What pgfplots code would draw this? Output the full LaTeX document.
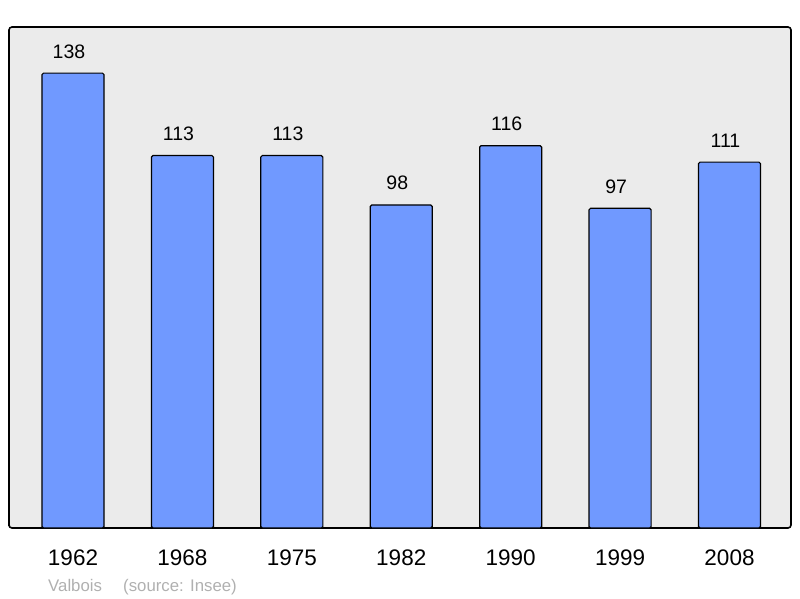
\documentclass[border=0pt]{standalone}
\usepackage{pgfplots}
\pgfplotsset{compat=1.18}
\usepackage{fontspec}
\setmainfont{Liberation Sans}
\definecolor{barblue}{HTML}{7099FF}
\definecolor{bggray}{HTML}{EBEBEB}
\definecolor{srcgray}{HTML}{B0B0B0}
\begin{document}
\begin{tikzpicture}
\begin{axis}[
  scale only axis,
  width=782pt, height=501pt,
  xmin=-0.585, xmax=6.562,
  ymin=0, ymax=152,
  /pgf/number format/assume math mode=true,
  axis background/.style={fill=bggray},
  axis line style={line width=1.6pt, rounded corners=3pt},
  xtick={0,1,2,3,4,5,6},
  xticklabels={1962,1968,1975,1982,1990,1999,2008},
  xtick style={draw=none},
  ytick=\empty,
  xticklabel style={font=\fontsize{22.5}{26}\selectfont, anchor=base, yshift=-37pt},
  nodes near coords,
  nodes near coords style={font=\fontsize{19.5}{23}\selectfont, anchor=base, yshift=15pt, xshift=-4pt, text=black},
  clip=false,
]
\addplot[ybar, bar width=0.567, fill=barblue, draw=black, line width=1.2pt, rounded corners=1.5pt] coordinates {
(0,138) (1,113) (2,113) (3,98) (4,116) (5,97) (6,111)
};
\end{axis}
\node[anchor=base west, text=srcgray, font=\fontsize{16.8}{19}\selectfont, inner sep=0pt] at ([xshift=39pt,yshift=-63pt]current axis.south west) {Valbois};
\node[anchor=base west, text=srcgray, font=\fontsize{16.8}{19}\selectfont, inner sep=0pt] at ([xshift=114pt,yshift=-63pt]current axis.south west) {(source: Insee)};
\path[use as bounding box] ([xshift=-9pt,yshift=-70pt]current axis.south west) rectangle ++(800pt,598pt);
\end{tikzpicture}
\end{document}
